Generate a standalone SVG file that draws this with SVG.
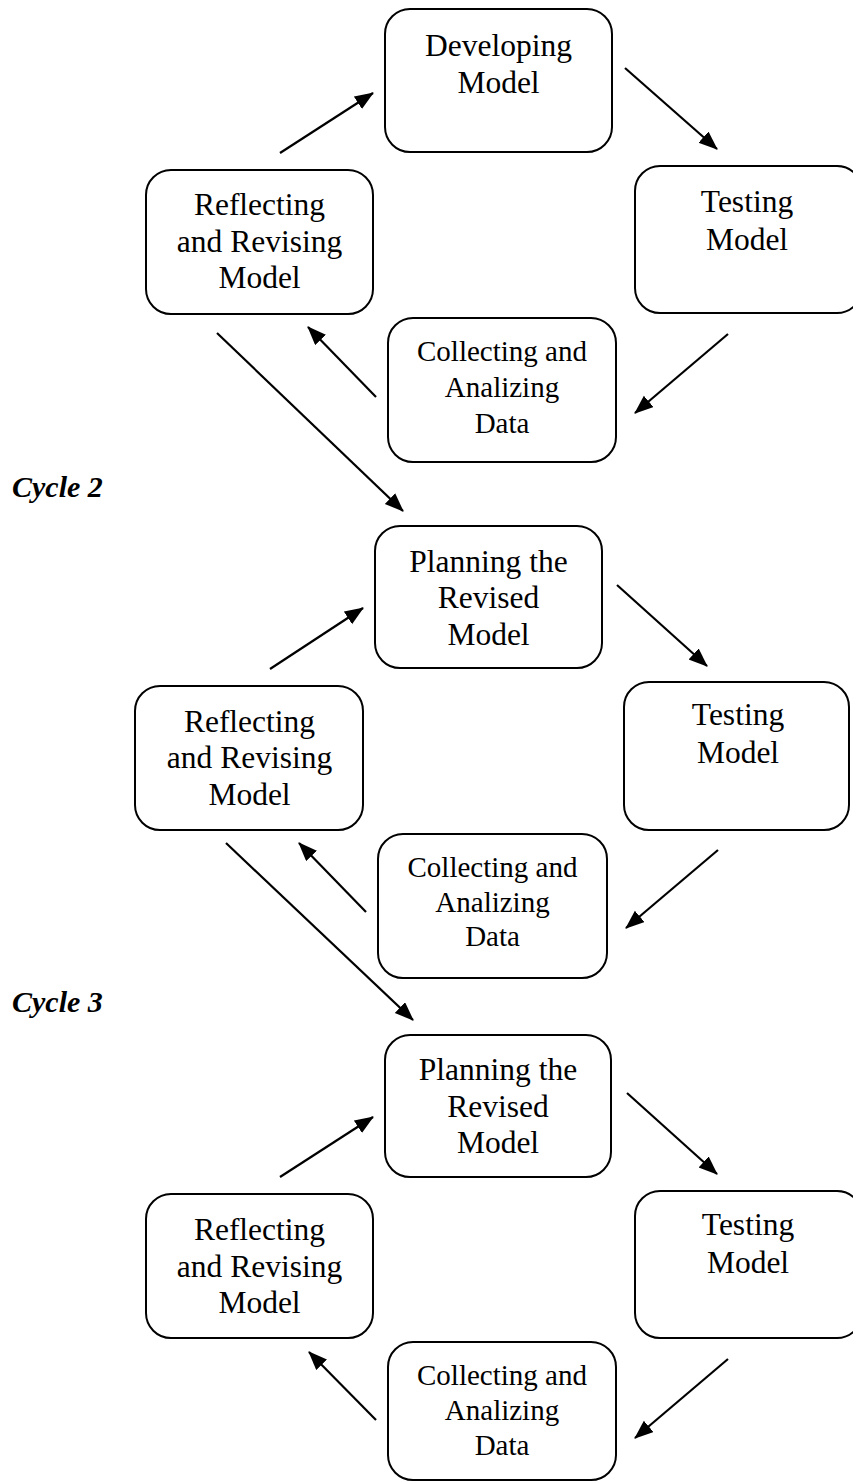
<svg xmlns="http://www.w3.org/2000/svg" width="853" height="1481" viewBox="0 0 853 1481">
<style>
.box{fill:#fff;stroke:#000;stroke-width:2}
.t{font-family:"Liberation Serif","Times New Roman",serif;font-size:31.5px;text-anchor:middle;fill:#000}
.s{font-family:"Liberation Serif","Times New Roman",serif;font-size:29px;text-anchor:middle;fill:#000}
.lbl{font-family:"Liberation Serif","Times New Roman",serif;font-size:30px;font-weight:bold;font-style:italic;fill:#000}
.c{stroke:#000;stroke-width:2.2;fill:none;marker-end:url(#ah)}
</style>
<defs>
<marker id="ah" markerUnits="userSpaceOnUse" markerWidth="20" markerHeight="16" refX="18" refY="7.5" orient="auto">
<path d="M0,0 L19,7.5 L0,15 z" fill="#000"/>
</marker>
</defs>
<rect width="853" height="1481" fill="#fff"/>

<g id="connectors">
<line class="c" x1="280" y1="153" x2="373" y2="93"/>
<line class="c" x1="625" y1="68" x2="717" y2="149"/>
<line class="c" x1="728" y1="334" x2="635" y2="413"/>
<line class="c" x1="376" y1="397" x2="308" y2="327"/>
<line class="c" x1="217" y1="333" x2="403" y2="511"/>
<line class="c" x1="270" y1="669" x2="363" y2="608"/>
<line class="c" x1="617" y1="585" x2="707" y2="666"/>
<line class="c" x1="718" y1="850" x2="626" y2="928"/>
<line class="c" x1="366" y1="912" x2="299" y2="843"/>
<line class="c" x1="226" y1="843" x2="413" y2="1020"/>
<line class="c" x1="280" y1="1177" x2="373" y2="1117"/>
<line class="c" x1="627" y1="1093" x2="717" y2="1174"/>
<line class="c" x1="728" y1="1359" x2="635" y2="1438"/>
<line class="c" x1="376" y1="1420" x2="309" y2="1352"/>
</g>

<g id="c1-developing">
<rect class="box" x="385" y="9" width="227" height="143" rx="25"/>
<text class="t" x="498.5" y="56">Developing</text>
<text class="t" x="498.5" y="93">Model</text>
</g>
<g id="c1-testing">
<rect class="box" x="635" y="166" width="227" height="147" rx="25"/>
<text class="t" x="747" y="212">Testing</text>
<text class="t" x="747" y="250">Model</text>
</g>
<g id="c1-collecting">
<rect class="box" x="388" y="318" width="228" height="144" rx="25"/>
<text class="s" x="502" y="361">Collecting and</text>
<text class="s" x="502" y="397">Analizing</text>
<text class="s" x="502" y="433">Data</text>
</g>
<g id="c1-reflecting">
<rect class="box" x="146" y="170" width="227" height="144" rx="25"/>
<text class="t" x="259.5" y="215">Reflecting</text>
<text class="t" x="259.5" y="252">and Revising</text>
<text class="t" x="259.5" y="288">Model</text>
</g>

<g id="label-cycle2">
<text class="lbl" x="12" y="497">Cycle 2</text>
</g>
<g id="c2-planning">
<rect class="box" x="375" y="526" width="227" height="142" rx="25"/>
<text class="t" x="488.5" y="572">Planning the</text>
<text class="t" x="488.5" y="608">Revised</text>
<text class="t" x="488.5" y="645">Model</text>
</g>
<g id="c2-testing">
<rect class="box" x="624" y="682" width="225" height="148" rx="25"/>
<text class="t" x="738" y="725">Testing</text>
<text class="t" x="738" y="763">Model</text>
</g>
<g id="c2-collecting">
<rect class="box" x="378" y="834" width="229" height="144" rx="25"/>
<text class="s" x="492.5" y="877">Collecting and</text>
<text class="s" x="492.5" y="912">Analizing</text>
<text class="s" x="492.5" y="946">Data</text>
</g>
<g id="c2-reflecting">
<rect class="box" x="135" y="686" width="228" height="144" rx="25"/>
<text class="t" x="249.5" y="732">Reflecting</text>
<text class="t" x="249.5" y="768">and Revising</text>
<text class="t" x="249.5" y="805">Model</text>
</g>

<g id="label-cycle3">
<text class="lbl" x="12" y="1012">Cycle 3</text>
</g>
<g id="c3-planning">
<rect class="box" x="385" y="1035" width="226" height="142" rx="25"/>
<text class="t" x="498" y="1080">Planning the</text>
<text class="t" x="498" y="1117">Revised</text>
<text class="t" x="498" y="1153">Model</text>
</g>
<g id="c3-testing">
<rect class="box" x="635" y="1191" width="227" height="147" rx="25"/>
<text class="t" x="748" y="1235">Testing</text>
<text class="t" x="748" y="1273">Model</text>
</g>
<g id="c3-collecting">
<rect class="box" x="388" y="1342" width="228" height="138" rx="25"/>
<text class="s" x="502" y="1385">Collecting and</text>
<text class="s" x="502" y="1420">Analizing</text>
<text class="s" x="502" y="1455">Data</text>
</g>
<g id="c3-reflecting">
<rect class="box" x="146" y="1194" width="227" height="144" rx="25"/>
<text class="t" x="259.5" y="1240">Reflecting</text>
<text class="t" x="259.5" y="1277">and Revising</text>
<text class="t" x="259.5" y="1313">Model</text>
</g>
</svg>
